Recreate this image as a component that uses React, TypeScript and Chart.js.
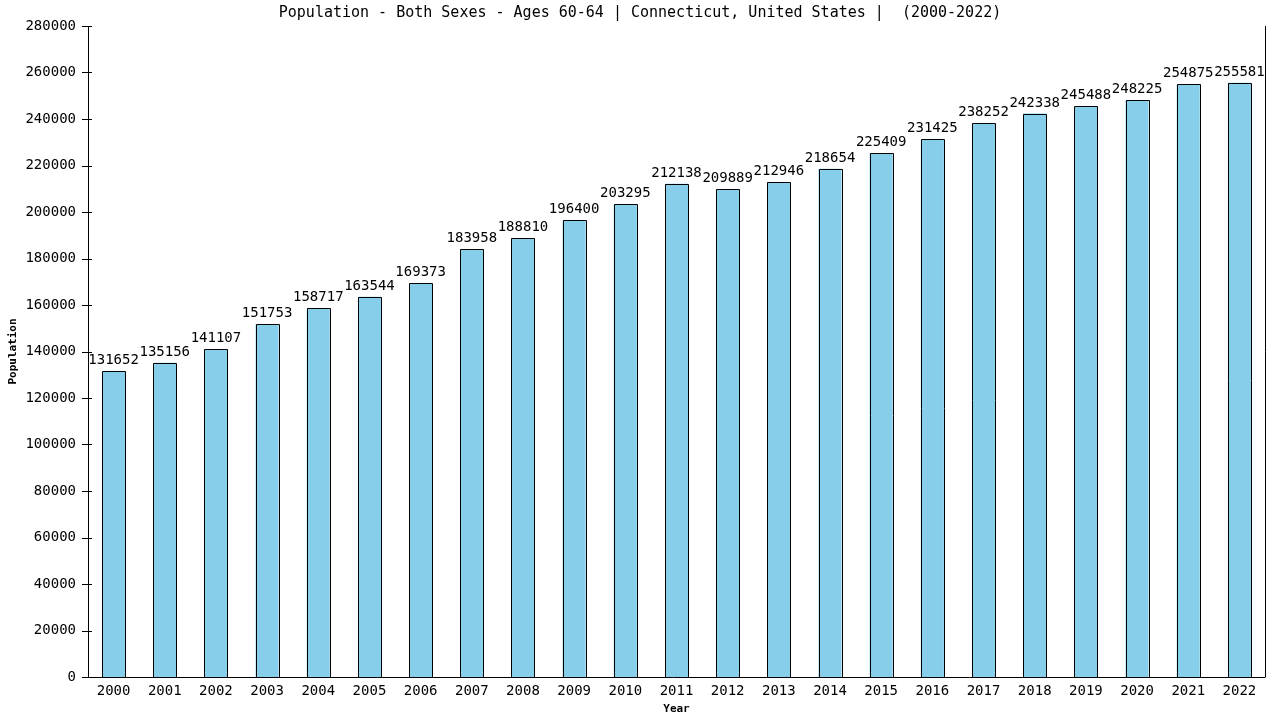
import React, { useEffect, useRef } from "react";
import { Chart, registerables } from "chart.js";

Chart.register(...registerables);

const years = ["2000","2001","2002","2003","2004","2005","2006","2007","2008","2009","2010","2011","2012","2013","2014","2015","2016","2017","2018","2019","2020","2021","2022"];
const population = [131652,135156,141107,151753,158717,163544,169373,183958,188810,196400,203295,212138,209889,212946,218654,225409,231425,238252,242338,245488,248225,254875,255581];
const titleText = "Population - Both Sexes - Ages 60-64 | Connecticut, United States |  (2000-2022)";
const xTitle = "Year";
const yTitle = "Population";

const MONO = "'DejaVu Sans Mono', 'Liberation Mono', monospace";

const decor = {
  id: "decor",
  afterDatasetsDraw(chart: any) {
    const ctx = chart.ctx;
    const meta = chart.getDatasetMeta(0);
    ctx.save();
    ctx.strokeStyle = "#000";
    ctx.lineWidth = 1;
    meta.data.forEach((bar: any) => {
      const x1 = Math.round(bar.x - bar.width / 2) + 0.5;
      const x2 = Math.round(bar.x + bar.width / 2) + 0.5;
      const yt = Math.round(bar.y) + 0.5;
      const yb = Math.round(bar.base) + 0.5;
      ctx.beginPath();
      ctx.moveTo(x1, yb);
      ctx.lineTo(x1, yt);
      ctx.lineTo(x2, yt);
      ctx.lineTo(x2, yb);
      ctx.stroke();
    });
    ctx.restore();
  },
  afterDraw(chart: any) {
    const ctx = chart.ctx;
    const a = chart.chartArea;
    const y = chart.scales.y;
    ctx.save();
    ctx.strokeStyle = "#000";
    ctx.lineWidth = 1;
    ctx.beginPath();
    ctx.moveTo(Math.round(a.left) + 0.5, a.top);
    ctx.lineTo(Math.round(a.left) + 0.5, Math.round(a.bottom) + 0.5);
    ctx.moveTo(a.left - 6, Math.round(a.bottom) + 0.5);
    ctx.lineTo(a.right, Math.round(a.bottom) + 0.5);
    ctx.moveTo(Math.round(a.right) + 0.5, a.top);
    ctx.lineTo(Math.round(a.right) + 0.5, Math.round(a.bottom) + 0.5);
    y.ticks.forEach((t: any) => {
      const py = Math.round(y.getPixelForValue(t.value)) + 0.5;
      ctx.moveTo(a.left - 6, py);
      ctx.lineTo(a.left + 4, py);
    });
    ctx.stroke();
    ctx.fillStyle = "#000";
    ctx.font = `14px ${MONO}`;
    ctx.textAlign = "center";
    ctx.textBaseline = "alphabetic";
    const meta = chart.getDatasetMeta(0);
    meta.data.forEach((bar: any, i: number) => {
      ctx.fillText(String(population[i]), bar.x, bar.y - 7);
    });
    ctx.font = `15px ${MONO}`;
    ctx.textBaseline = "middle";
    ctx.fillText(titleText, 640, 13);
    ctx.font = `bold 11px ${MONO}`;
    ctx.fillText(xTitle, (a.left + a.right) / 2, 709);
    ctx.translate(13, (a.top + a.bottom) / 2);
    ctx.rotate(-Math.PI / 2);
    ctx.fillText(yTitle, 0, 0);
    ctx.restore();
  },
};

export default function App() {
  const ref = useRef<HTMLCanvasElement>(null);
  useEffect(() => {
    document.body.style.margin = "0";
    const chart = new Chart(ref.current!, {
      type: "bar",
      data: {
        labels: years,
        datasets: [
          {
            data: population,
            backgroundColor: "#87CEEB",
            borderWidth: 0,
            categoryPercentage: 1,
            barPercentage: 0.45,
          },
        ],
      },
      options: {
        animation: false,
        responsive: false,
        maintainAspectRatio: false,
        layout: { padding: { left: 0, right: 15, top: 26, bottom: 0 } },
        plugins: { legend: { display: false }, title: { display: false }, tooltip: { enabled: false } },
        scales: {
          x: {
            grid: { display: false, drawTicks: false },
            border: { display: false },
            ticks: { color: "#000", font: { family: MONO, size: 14 }, padding: 6, maxRotation: 0, autoSkip: false },
            afterFit: (s: any) => { s.height = 43; },
          },
          y: {
            min: 0,
            max: 280000,
            grid: { display: false, drawTicks: false },
            border: { display: false },
            ticks: {
              stepSize: 20000,
              color: "#000",
              font: { family: MONO, size: 14 },
              padding: 12,
              callback: (v: any) => String(v),
            },
            afterFit: (s: any) => { s.width = 88; },
          },
        },
      },
      plugins: [decor],
    });
    return () => chart.destroy();
  }, []);
  return (
    <div style={{ width: 1280, height: 720 }}>
      <canvas ref={ref} width={1280} height={720} style={{ display: "block" }} />
    </div>
  );
}
